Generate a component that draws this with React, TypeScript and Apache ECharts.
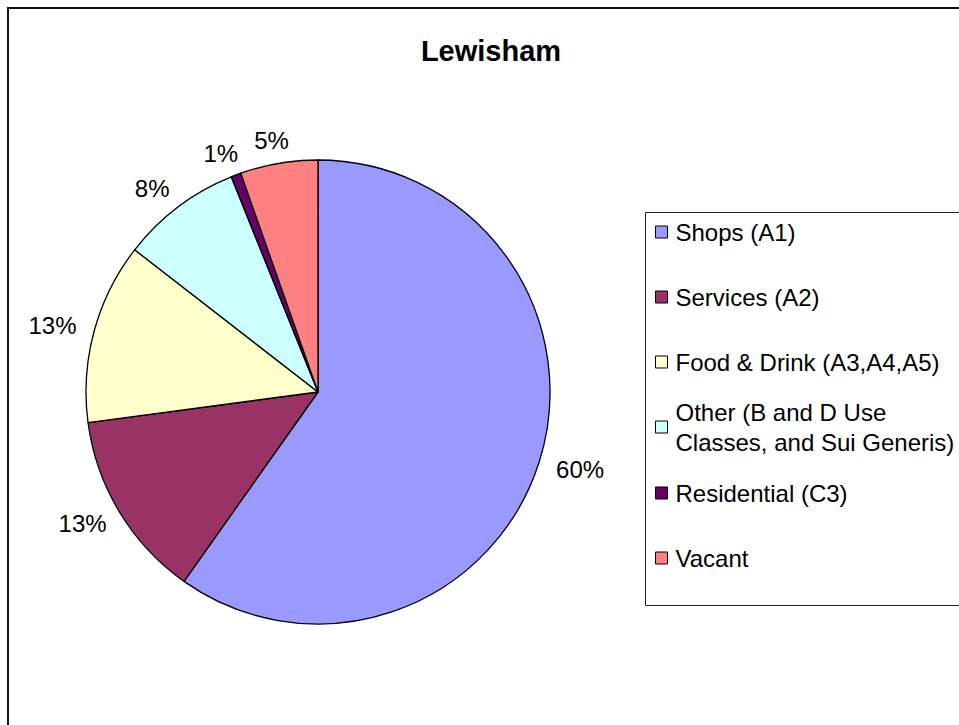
import React, { useEffect, useRef } from 'react';
import * as echarts from 'echarts';

// ---- data ----
const categories = [
  'Shops (A1)',
  'Services (A2)',
  'Food & Drink (A3,A4,A5)',
  'Other (B and D Use\nClasses, and Sui Generis)',
  'Residential (C3)',
  'Vacant',
];
const shares = [59.8, 13.1, 12.6, 8.4, 0.7, 5.4];
const colors = ['#9999FF', '#993366', '#FFFFCC', '#CCFFFF', '#660066', '#FF8080'];
const chartTitle = 'Lewisham';

// ---- layout ----
const FONT = '"Liberation Sans", Arial, sans-serif';
const CX = 318;
const CY = 392;
const R = 232;
const LABEL_RX = 275;
const LABEL_RY = 255;
const legendRowCenters = [232, 297, 362, 427, 493, 558];
const LINE_H = 30;

export default function App() {
  const ref = useRef<HTMLDivElement>(null);

  useEffect(() => {
    if (!ref.current) return;
    const chart = echarts.init(ref.current, undefined, { renderer: 'svg' });

    const total = shares.reduce((a, b) => a + b, 0);
    const mids: number[] = [];
    let cum = 0;
    shares.forEach((v) => {
      mids.push(((cum + v / 2) / total) * Math.PI * 2);
      cum += v;
    });

    const legends = categories.map((name, i) => {
      const multi = name.includes('\n');
      return {
        show: true,
        data: [name],
        orient: 'vertical',
        left: 655,
        top: multi ? legendRowCenters[i] - 45 : legendRowCenters[i] - LINE_H / 2,
        padding: 0,
        itemWidth: 12,
        itemHeight: 12,
        icon: 'rect',
        selectedMode: false,
        itemStyle: { borderColor: '#000', borderWidth: 1 },
        textStyle: {
          fontFamily: FONT,
          fontSize: 24,
          color: '#000',
          lineHeight: LINE_H,
          padding: multi ? [LINE_H, 0, 0, 3] : [0, 0, 0, 3],
        },
      };
    });

    chart.setOption({
      animation: false,
      backgroundColor: '#fff',
      title: {
        text: chartTitle,
        left: 491,
        top: 36,
        padding: 0,
        textAlign: 'center',
        textStyle: { fontFamily: FONT, fontSize: 29, fontWeight: 'bold', color: '#000' },
      },
      legend: legends,
      graphic: [
        {
          type: 'rect',
          silent: true,
          z: -1,
          shape: { x: 8, y: 8, width: 1200, height: 1200 },
          style: { fill: 'none', stroke: '#111', lineWidth: 2 },
        },
        {
          type: 'rect',
          silent: true,
          z: -1,
          shape: { x: 645.5, y: 212.5, width: 400, height: 393 },
          style: { fill: 'none', stroke: '#222', lineWidth: 1 },
        },
      ],
      series: [
        {
          type: 'pie',
          center: [CX, CY],
          radius: R,
          startAngle: 90,
          clockwise: true,
          percentPrecision: 0,
          avoidLabelOverlap: false,
          itemStyle: { borderColor: '#000', borderWidth: 1.3 },
          emphasis: { disabled: true },
          label: {
            show: true,
            position: 'outside',
            formatter: '{d}%',
            fontFamily: FONT,
            fontSize: 24,
            color: '#000',
          },
          labelLine: { show: false },
          labelLayout: (p: any) => {
            const a = mids[p.dataIndex];
            return {
              x: CX + LABEL_RX * Math.sin(a),
              y: CY - LABEL_RY * Math.cos(a),
              align: 'center',
              verticalAlign: 'middle',
            };
          },
          data: categories.map((name, i) => ({
            name,
            value: shares[i],
            itemStyle: { color: colors[i] },
          })),
        },
      ],
    });

    return () => chart.dispose();
  }, []);

  return (
    <div
      ref={ref}
      style={{ position: 'fixed', left: 0, top: 0, width: 959, height: 725 }}
    />
  );
}
